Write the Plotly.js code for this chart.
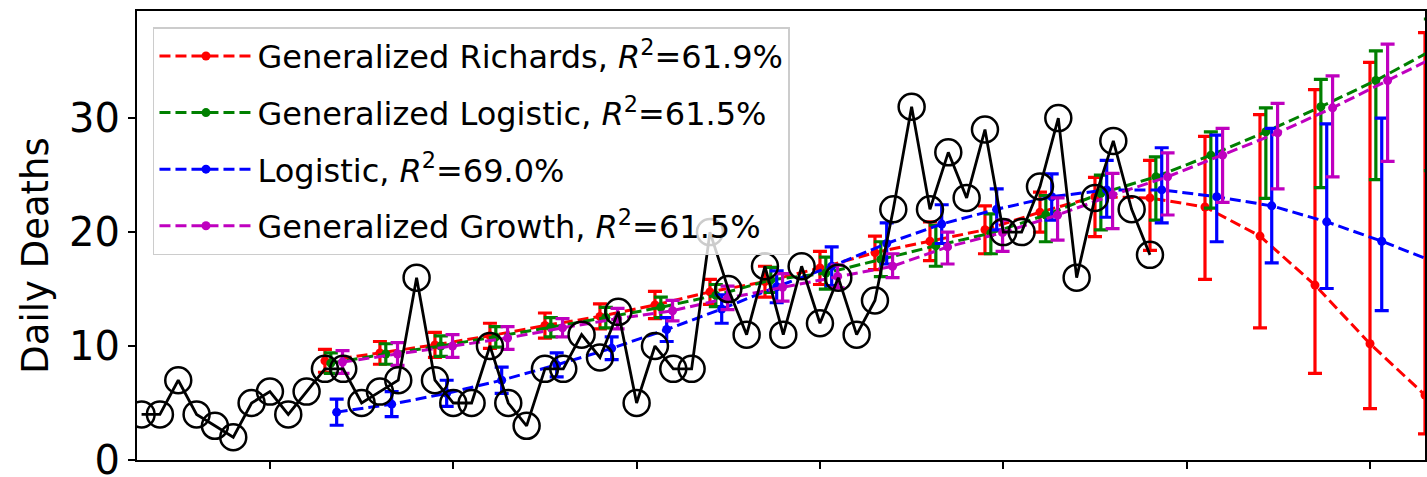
<!DOCTYPE html>
<html><head><meta charset="utf-8">
<script src="https://cdn.plot.ly/plotly-3.0.1.min.js"></script>
<style>html,body{margin:0;padding:0;background:#fff;} #chart{width:1427px;height:477px;}</style>
</head><body><div id="chart"></div>
<script>
// Observed daily deaths (one value per day, day 0 .. 55)
const observedDeaths = [4,4,7,4,3,2,5,6,4,6,8,8,5,6,7,16,7,5,5,10,5,3,8,8,11,9,13,5,10,8,8,20,15,11,17,11,17,12,16,11,14,22,31,22,27,23,29,20,20,24,30,16,23,28,22,18];

// Model evaluation days
const modelDays = [10,13,16,19,22,25,28,31,34,37,40,43,46,49,52,55,58,61,64,67,70];

const richardsFit   = [8.7,9.4,10.1,10.9,11.8,12.6,13.6,14.75,15.65,16.85,18.2,19.2,20.2,21.75,23.1,23.0,22.2,19.65,15.35,10.2,5.7];
const richardsUpper = [1.0,1.0,1.1,1.1,1.1,1.1,1.2,1.1,1.35,1.45,1.45,1.7,2.1,1.75,1.7,3.3,6.2,10.65,17.15,24.7,31.8];
const richardsLower = [1.0,1.0,1.1,1.1,1.1,1.1,1.2,1.1,1.35,1.45,1.5,1.7,2.1,1.75,3.5,4.6,6.35,8.05,7.75,5.7,3.4];

const genLogisticFit   = [8.5,9.3,10.0,10.8,11.65,12.5,13.4,14.45,15.8,16.4,17.6,18.8,19.9,21.5,23.4,24.85,26.75,28.8,31.0,33.3,35.9];
const genLogisticUpper = [0.9,0.9,0.9,0.9,0.85,0.9,0.9,0.95,1.1,1.4,1.55,1.8,1.7,1.7,1.6,1.75,2.05,2.1,2.4,2.6,2.8];
const genLogisticLower = [0.9,0.9,0.9,0.9,0.85,0.9,0.9,1.0,1.1,1.4,1.5,1.8,1.8,2.35,3.2,3.8,4.65,5.85,7.1,8.7,10.5];

const logisticFit   = [4.2,4.9,5.85,7.0,8.35,9.8,11.45,13.25,15.2,17.0,19.0,20.7,22.0,23.1,23.7,23.7,23.1,22.3,20.9,19.2,17.3];
const logisticUpper = [1.15,1.1,1.15,1.15,1.05,1.0,1.05,1.25,1.4,1.7,1.8,1.7,1.8,2.0,2.6,3.7,5.4,6.8,8.6,10.8,12.5];
const logisticLower = [1.15,1.1,1.15,1.15,1.05,1.0,1.05,1.25,1.4,1.7,1.8,1.7,1.8,2.05,2.4,2.9,3.95,5.0,5.85,6.1,6.3];

const genGrowthFit   = [8.6,9.3,10.0,10.7,11.6,12.4,13.1,14.2,15.15,16.1,17.0,18.7,19.95,21.5,23.25,24.85,26.75,28.7,30.9,33.3,35.7];
const genGrowthUpper = [1.0,1.0,1.0,1.0,0.8,0.9,0.9,1.05,1.2,1.0,1.1,1.3,1.1,1.5,1.9,2.1,2.35,2.6,2.8,3.2,3.4];
const genGrowthLower = [1.0,1.0,1.0,1.0,0.8,0.9,0.9,1.0,1.2,1.0,1.0,1.5,1.65,2.2,2.95,3.35,4.15,4.9,6.05,7.1,8.0];

const seriesNames = [
  'Generalized Richards, <i>R</i><sup>2</sup>=61.9%',
  'Generalized Logistic, <i>R</i><sup>2</sup>=61.5%',
  'Logistic, <i>R</i><sup>2</sup>=69.0%',
  'Generalized Growth, <i>R</i><sup>2</sup>=61.5%'
];
const yAxisLabel = 'Daily Deaths';
const seriesColors = ['#ff0000', '#008000', '#0000ff', '#bf00bf'];
const seriesShift = [0, 0.32, 0.64, 0.96]; // small horizontal dodge between models
const fits = [richardsFit, genLogisticFit, logisticFit, genGrowthFit];
const uppers = [richardsUpper, genLogisticUpper, logisticUpper, genGrowthUpper];
const lowers = [richardsLower, genLogisticLower, logisticLower, genGrowthLower];

const traces = [];
for (let i = 0; i < 4; i++) {
  traces.push({
    type: 'scatter', mode: 'lines+markers',
    x: modelDays.map(d => d + seriesShift[i]),
    y: fits[i],
    name: seriesNames[i],
    legendgroup: 'g' + i,
    line: {color: seriesColors[i], width: 3, dash: '11px,5px'},
    marker: {color: seriesColors[i], size: 9, symbol: 'circle'},
    error_y: {type: 'data', symmetric: false, array: uppers[i], arrayminus: lowers[i],
              color: seriesColors[i], thickness: 3.2, width: 7},
    cliponaxis: true
  });
}
traces.push({
  type: 'scatter', mode: 'lines+markers',
  x: observedDeaths.map((v, i) => i),
  y: observedDeaths,
  showlegend: false,
  line: {color: '#000', width: 2.8},
  marker: {symbol: 'circle-open', size: 26, color: '#000', line: {width: 2.5, color: '#000'}},
  cliponaxis: true
});

const layout = {
  width: 1427, height: 477,
  margin: {l: 137, r: 2, t: 11, b: 17, pad: 0},
  paper_bgcolor: '#fff', plot_bgcolor: '#fff',
  font: {family: 'DejaVu Sans', color: '#000', size: 32},
  showlegend: true,
  xaxis: {
    range: [-0.25, 70], tickvals: [7,17,27,37,47,57,67], showticklabels: false,
    ticks: 'outside', ticklen: 7, tickwidth: 2, tickcolor: '#000',
    showline: true, linecolor: '#000', linewidth: 2, mirror: true,
    showgrid: false, zeroline: false
  },
  yaxis: {
    range: [0, 39.4], tickvals: [0,10,20,30], ticktext: ['0','10','20','30'],
    ticks: 'outside', ticklen: 7, tickwidth: 2, tickcolor: '#000',
    tickfont: {size: 40}, ticklabeloverflow: 'allow',
    showline: true, linecolor: '#000', linewidth: 2, mirror: true,
    showgrid: false, zeroline: false
  },
  annotations: [{
    text: yAxisLabel, xref: 'paper', yref: 'paper', x: -0.0784, y: 0.455,
    xanchor: 'center', yanchor: 'middle', textangle: -90, showarrow: false,
    font: {size: 37, family: 'DejaVu Sans', color: '#000'}
  }],
  legend: {
    x: 0.0124, y: 0.964, xanchor: 'left', yanchor: 'top',
    bgcolor: 'rgba(255,255,255,0.8)', bordercolor: '#cccccc', borderwidth: 1.5,
    font: {size: 32}, itemwidth: 93, tracegroupgap: 12, traceorder: 'grouped'
  }
};

Plotly.newPlot('chart', traces, layout, {displayModeBar: false, staticPlot: true});
</script>
</body></html>
